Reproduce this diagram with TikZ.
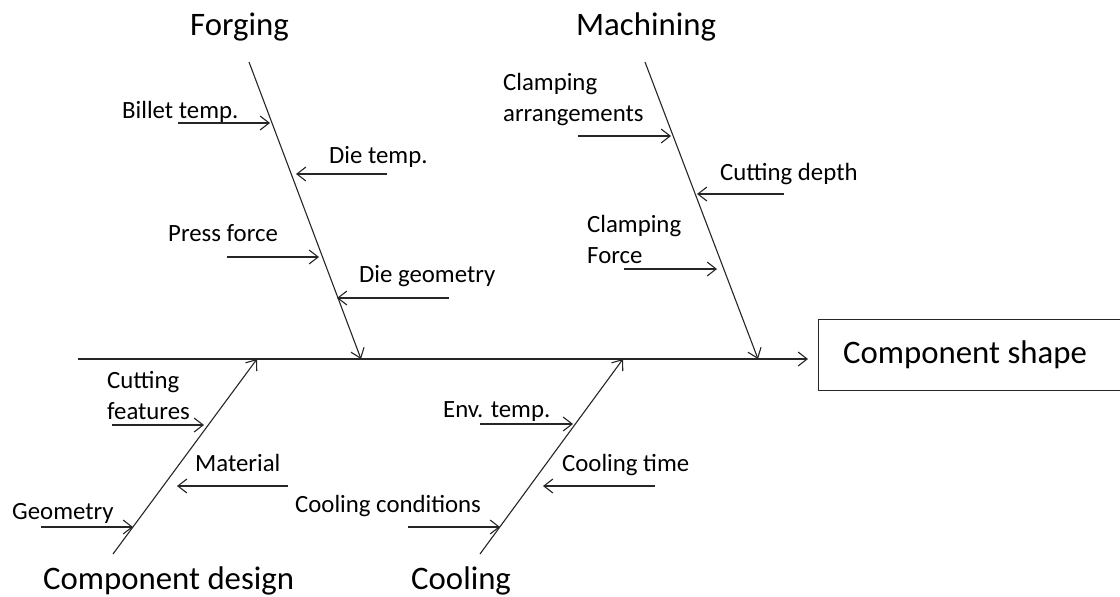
\documentclass[tikz,border=0pt]{standalone}
\usepackage{fontspec}
\setmainfont{Carlito}
\usetikzlibrary{arrows.meta}
\begin{document}
\begin{tikzpicture}[x=1pt,y=-1pt,
  line/.style={draw=black!85,line width=1.1pt},
  arr/.style={line,-{Straight Barb[length=9pt,width=14pt,line width=1.1pt]}},
  lbl/.style={inner sep=0pt,anchor=base west,font=\fontsize{24.8}{31}\selectfont,align=left},
  title/.style={inner sep=0pt,anchor=base west,font=\fontsize{32.8}{38}\selectfont},
  box/.style={draw=black!85,line width=1.1pt,inner sep=0pt,anchor=north west,
    minimum width=320pt,minimum height=71pt}]
\clip (0,0) rectangle (1120,597);

% effect box and main spine
\node[box] (effect) at (818,319) {};
\node[title] (effectText) at (843,363.5) {Component shape};
\coordinate (spineTail) at (78,359);
\coordinate (spineHead) at (808,359);
\draw[arr] (spineTail) -- (spineHead);

% category titles
\node[title] (forging) at (190,35) {Forging};
\node[title] (machining) at (576,35) {Machining};
\node[title] (design) at (43,589.5) {Component design};
\node[title] (cooling) at (411,589.5) {Cooling};

% bones
\coordinate (fTop) at (249,62);   \coordinate (fEnd) at (361,359);
\coordinate (mTop) at (645,62);   \coordinate (mEnd) at (758,359);
\coordinate (dBot) at (113,554);  \coordinate (dEnd) at (257,359);
\coordinate (cBot) at (480,554);  \coordinate (cEnd) at (623,359);
\draw[arr] (fTop) -- (fEnd);
\draw[arr] (mTop) -- (mEnd);
\draw[arr] (dBot) -- (dEnd);
\draw[arr] (cBot) -- (cEnd);

% Forging causes
\node[lbl] (billet) at (122,118.5) {Billet temp.};
\coordinate (billetA) at (178,123); \coordinate (billetB) at (270,123);
\draw[arr] (billetA) -- (billetB);
\node[lbl] (dietemp) at (329,163) {Die temp.};
\coordinate (dietempA) at (387,174); \coordinate (dietempB) at (296,174);
\draw[arr] (dietempA) -- (dietempB);
\node[lbl] (press) at (168,241.5) {Press force};
\coordinate (pressA) at (227,257); \coordinate (pressB) at (319,257);
\draw[arr] (pressA) -- (pressB);
\node[lbl] (diegeo) at (359,282.5) {Die geometry};
\coordinate (diegeoA) at (449,298); \coordinate (diegeoB) at (337,298);
\draw[arr] (diegeoA) -- (diegeoB);

% Machining causes (two-line labels sit on the baseline of their last line)
\node[lbl] (clampArr) at (503,121.7) {Clamping\\arrangements};
\coordinate (clampArrA) at (578,136); \coordinate (clampArrB) at (671,136);
\draw[arr] (clampArrA) -- (clampArrB);
\node[lbl] (cutDepth) at (720,180) {Cutting depth};
\coordinate (cutDepthA) at (784,194); \coordinate (cutDepthB) at (697,194);
\draw[arr] (cutDepthA) -- (cutDepthB);
\node[lbl] (clampForce) at (587,263.3) {Clamping\\Force};
\coordinate (clampForceA) at (624,269); \coordinate (clampForceB) at (717,269);
\draw[arr] (clampForceA) -- (clampForceB);

% Component design causes
\node[lbl] (cutFeat) at (107,419.3) {Cutting\\features};
\coordinate (cutFeatA) at (112,425); \coordinate (cutFeatB) at (204,425);
\draw[arr] (cutFeatA) -- (cutFeatB);
\node[lbl] (material) at (195,471) {Material};
\coordinate (materialA) at (288,486); \coordinate (materialB) at (177,486);
\draw[arr] (materialA) -- (materialB);
\node[lbl] (geometry) at (12,519) {Geometry};
\coordinate (geometryA) at (41,527); \coordinate (geometryB) at (133,527);
\draw[arr] (geometryA) -- (geometryB);

% Cooling causes
\node[lbl] (envTemp) at (443,417.5) {Env. temp.};
\coordinate (envTempA) at (480,424); \coordinate (envTempB) at (573,424);
\draw[arr] (envTempA) -- (envTempB);
\node[lbl] (coolTime) at (562,471) {Cooling time};
\coordinate (coolTimeA) at (655,486); \coordinate (coolTimeB) at (543,486);
\draw[arr] (coolTimeA) -- (coolTimeB);
\node[lbl] (coolCond) at (295,512) {Cooling conditions};
\coordinate (coolCondA) at (408,527); \coordinate (coolCondB) at (500,527);
\draw[arr] (coolCondA) -- (coolCondB);
\end{tikzpicture}
\end{document}
